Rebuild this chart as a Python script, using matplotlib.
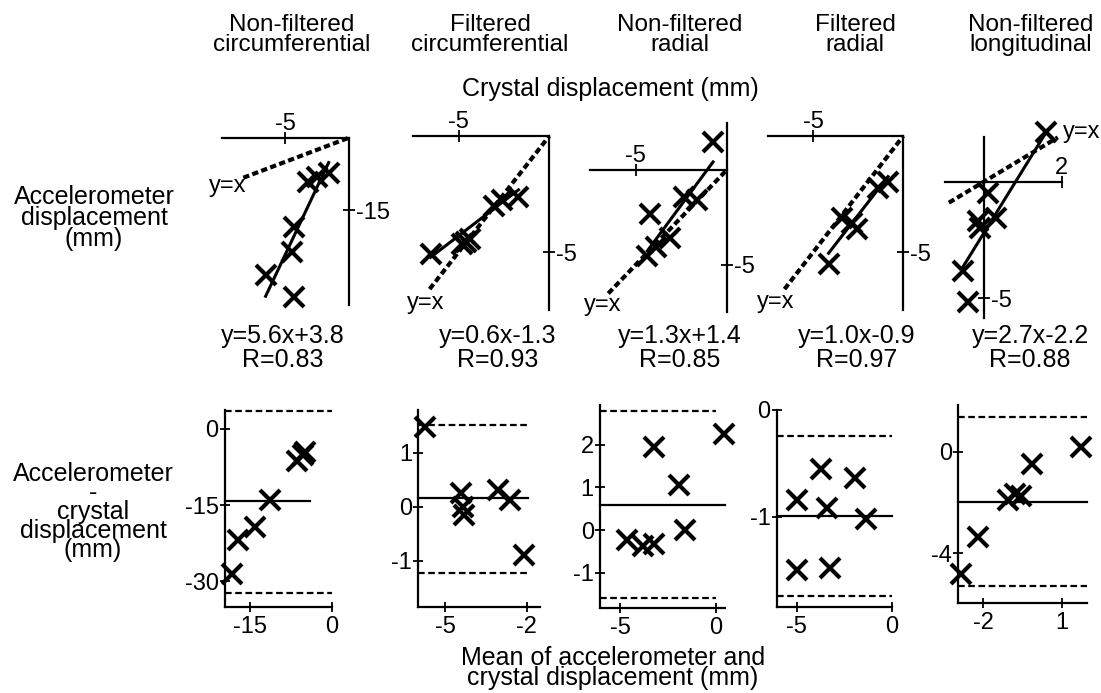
import matplotlib.pyplot as plt
import numpy as np

plt.rcParams['font.family'] = ['Liberation Sans', 'DejaVu Sans']
plt.rcParams['axes.unicode_minus'] = False

# column titles
titles = ['Non-filtered\ncircumferential', 'Filtered\ncircumferential',
          'Non-filtered\nradial', 'Filtered\nradial', 'Non-filtered\nlongitudinal']

# top row: crystal displacement (x) vs accelerometer displacement (y), mm
nfc_crys = [-3.2, -2.5, -1.6, -4.35, -4.5, -6.55, -4.35]
nfc_acc = [-9.1, -8.1, -7.4, -18.5, -23.7, -28.5, -33.0]
fc_crys = [-6.55, -4.8, -4.6, -4.35, -3.05, -2.6, -1.7]
fc_acc = [-5.1, -4.65, -4.55, -4.45, -3.0, -2.75, -2.65]
nfr_crys = [-0.75, -2.35, -1.65, -4.2, -3.1, -3.9, -4.35]
nfr_acc = [1.5, -1.4, -1.6, -2.3, -3.6, -4.05, -4.55]
fr_crys = [-0.85, -1.4, -3.4, -2.85, -2.6, -4.15]
fr_acc = [-2.0, -2.25, -3.55, -3.75, -4.0, -5.5]
nfl_crys = [1.6, 0.1, 0.3, -0.15, -0.1, -0.55, -0.4]
nfl_acc = [2.15, -0.5, -1.55, -1.7, -2.0, -3.85, -5.15]

# regression results
slopes = [5.6, 0.6, 1.3, 1.0, 2.7]
intercepts = [3.8, -1.3, 1.4, -0.9, -2.2]
r_values = [0.83, 0.93, 0.85, 0.97, 0.88]
identity_ends = [(-8.3, 0), (-6.6, 0), (-6.5, 0), (-6.6, 0), (-0.9, 1.9)]

# bottom row: Bland-Altman, mean (x) vs difference (y)
nfc_mean = [-5.2, -6.4, -4.9, -11.3, -14.1, -17.2, -18.4]
nfc_diff = [-5.1, -6.4, -4.6, -14.0, -19.3, -21.9, -28.5]
fc_mean = [-5.75, -4.4, -4.35, -4.3, -3.05, -2.6, -2.1]
fc_diff = [1.48, 0.25, 0.0, -0.15, 0.31, 0.12, -0.89]
nfr_mean = [-3.25, 0.4, -1.9, -1.6, -4.65, -3.8, -3.25]
nfr_diff = [1.95, 2.25, 1.05, 0.0, -0.23, -0.37, -0.32]
fr_mean = [-5.0, -3.7, -3.4, -1.95, -1.35, -5.0, -3.25]
fr_diff = [-0.84, -0.55, -0.92, -0.64, -1.02, -1.5, -1.48]
nfl_mean = [-2.85, -2.2, -1.05, -0.8, -0.55, -0.15, 1.75]
nfl_diff = [-4.8, -3.35, -1.9, -1.65, -1.75, -0.5, 0.2]

bias = [-14.3, 0.155, 0.6, -0.99, -1.97]
loa_upper = [3.6, 1.51, 2.8, -0.24, 1.35]
loa_lower = [-32.3, -1.22, -1.58, -1.74, -5.3]

top_x = [nfc_crys, fc_crys, nfr_crys, fr_crys, nfl_crys]
top_y = [nfc_acc, fc_acc, nfr_acc, fr_acc, nfl_acc]
bot_x = [nfc_mean, fc_mean, nfr_mean, fr_mean, nfl_mean]
bot_y = [nfc_diff, fc_diff, nfr_diff, fr_diff, nfl_diff]

top_xticks = [[-5], [-5], [-5], [-5], [2]]
top_yticks = [[-15], [-5], [-5], [-5], [-5]]
bot_xticks = [[-15, 0], [-5, -2], [-5, 0], [-5, 0], [-2, 1]]
bot_yticks = [[0, -15, -30], [1, 0, -1], [2, 1, 0, -1], [0, -1], [0, -4]]

# layout (pixels in the 1101x693 image)
W, H = 1101, 693
top_xlims = [(-10, 0), (-7.5, 0), (-7.5, 0), (-7.5, 0), (-1, 2)]
top_ylims = [(-34.7, 0), (-7.5, 0), (-7.46, 2.46), (-7.5, 0), (-5.86, 1.93)]
top_box = [(221.7, 349, 137.7, 305), (413.3, 549.3, 136, 310), (590, 726.7, 123.3, 311.7),
           (768.3, 903.3, 136, 310), (945, 1061.7, 136.7, 318.3)]
ident_lbl = [((-8.3, -8.3), (2, -6), 'right', 'center'),
             ((-6.6, -6.6), (-3, -10), 'center', 'center'),
             ((-6.5, -6.5), (-4, -8), 'center', 'center'),
             ((-6.6, -6.6), (-6, -9), 'center', 'center'),
             ((1.9, 1.9), (4, 4), 'left', 'center')]
eq_x = [283, 498, 680, 857, 1030]
title_x = [292, 490, 680, 855, 1031]

bot_xlims = [(-19.6, 0), (-5.98, -1.51), (-6.04, 0.47), (-6.05, 0), (-2.96, 1.96)]
bot_ylims = [(-35, 3.7), (-1.85, 1.79), (-1.83, 2.93), (-1.84, 0), (-5.97, 1.84)]
bot_box = [(225, 331.7, 410, 606.7), (418.3, 540, 410, 606.7), (600, 725, 405, 608.3),
           (776.7, 891.7, 410, 606.7), (958.3, 1086.7, 405, 603.3)]
bias_xmax = [-4.0, -1.96, 0.47, 0, 1.96]
loa_xmax = [0, -1.96, 0, 0, 1.96]

fig = plt.figure(figsize=(W / 100, H / 100), dpi=100)


def make_axes(box, xlim, ylim):
    x0, x1, y0, y1 = box
    ax = fig.add_axes([x0 / W, 1 - y1 / H, (x1 - x0) / W, (y1 - y0) / H])
    ax.set_xlim(xlim)
    ax.set_ylim(ylim)
    ax.patch.set_visible(False)
    return ax


for i in range(5):
    # ---- top: accelerometer vs crystal
    ax = make_axes(top_box[i], top_xlims[i], top_ylims[i])
    for s in ['left', 'bottom']:
        ax.spines[s].set_visible(False)
    ax.spines['top'].set_position(('data', 0))
    ax.spines['right'].set_position(('data', 0))
    for s in ['top', 'right']:
        ax.spines[s].set_linewidth(1.6)
    ax.xaxis.tick_top()
    ax.yaxis.tick_right()
    ax.set_xticks(top_xticks[i])
    ax.set_yticks(top_yticks[i])
    ax.tick_params(direction='inout', length=8, width=1.3, labelsize=17, pad=1)
    ax.tick_params(axis='x', pad=-2)

    ix = np.array(identity_ends[i])
    ax.plot(ix, ix, color='black', lw=3, ls=(0, (1.5, 0.8)), clip_on=False)
    (px, py), off, ha, va = ident_lbl[i]
    ax.annotate('y=x', (px, py), xytext=off, textcoords='offset points',
                ha=ha, va=va, fontsize=17)

    xs = np.array(top_x[i])
    fx = np.array([xs.min(), xs.max()])
    ax.plot(fx, slopes[i] * fx + intercepts[i], color='black', lw=2.2, clip_on=False)
    ax.plot(xs, top_y[i], ls='none', marker='x', ms=15, mew=3, color='black', clip_on=False)

    sign = '+' if intercepts[i] >= 0 else '-'
    fig.text(eq_x[i] / W, 1 - 348 / H,
             f'y={slopes[i]:.1f}x{sign}{abs(intercepts[i]):.1f}\nR={r_values[i]:.2f}',
             ha='center', va='center', fontsize=18, linespacing=0.95)
    fig.text(title_x[i] / W, 1 - 35 / H, titles[i], ha='center', va='center',
             fontsize=17.5, linespacing=0.9)

    # ---- bottom: Bland-Altman
    ax = make_axes(bot_box[i], bot_xlims[i], bot_ylims[i])
    for s in ['top', 'right']:
        ax.spines[s].set_visible(False)
    for s in ['left', 'bottom']:
        ax.spines[s].set_linewidth(1.6)
    ax.set_xticks(bot_xticks[i])
    ax.set_yticks(bot_yticks[i])
    ax.tick_params(direction='inout', length=7, width=1.3, labelsize=17, pad=1)
    ax.tick_params(axis='x', pad=3)
    x0 = bot_xlims[i][0]
    ax.plot([x0, bias_xmax[i]], [bias[i]] * 2, color='black', lw=1.6, clip_on=False)
    for lim in [loa_upper[i], loa_lower[i]]:
        ax.plot([x0, loa_xmax[i]], [lim] * 2, color='black', lw=1.6,
                ls=(0, (3, 1.6)), clip_on=False)
    ax.plot(bot_x[i], bot_y[i], ls='none', marker='x', ms=15, mew=3, color='black', clip_on=False)

fig.text(610 / W, 1 - 89 / H, 'Crystal displacement (mm)', ha='center', va='center', fontsize=18)
fig.text(94 / W, 1 - 218 / H, 'Accelerometer\ndisplacement\n(mm)', ha='center', va='center',
         fontsize=18, linespacing=0.85)
fig.text(93 / W, 1 - 512 / H, 'Accelerometer\n-\ncrystal\ndisplacement\n(mm)', ha='center',
         va='center', fontsize=18, linespacing=0.74)
fig.text(613 / W, 1 - 668 / H, 'Mean of accelerometer and\ncrystal displacement (mm)',
         ha='center', va='center', fontsize=18, linespacing=0.74)

fig.savefig('out.png', dpi=100)
